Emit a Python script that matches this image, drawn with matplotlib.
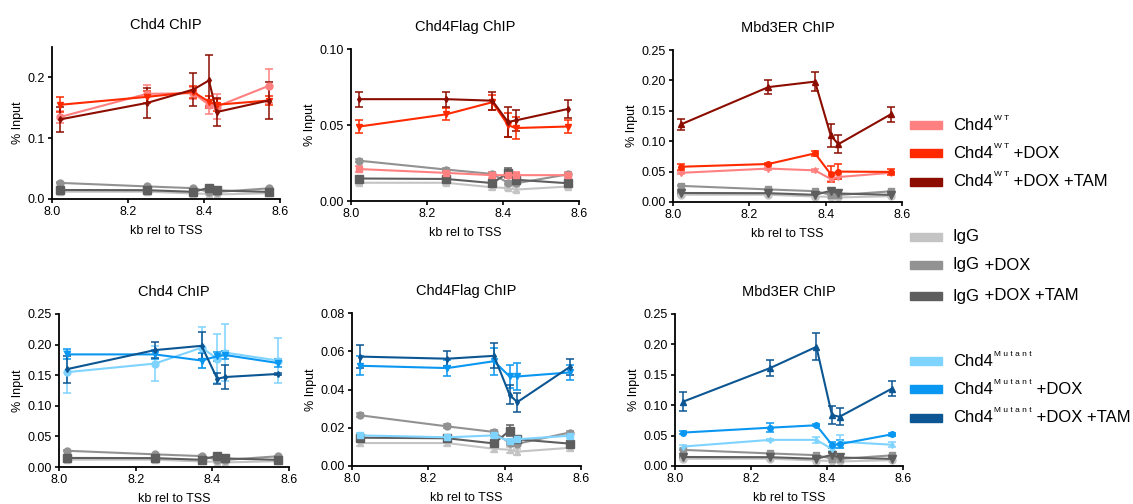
import matplotlib
matplotlib.use("Agg")
import matplotlib.pyplot as plt
from matplotlib.patches import Rectangle

plt.rcParams['font.family'] = ['Liberation Sans', 'DejaVu Sans']

# positions along the locus (kb relative to TSS)
pos = [8.022, 8.25, 8.372, 8.413, 8.433, 8.57]

# IgG controls (same in every panel)
igg = [0.012, 0.012, 0.009, 0.0085, 0.0075, 0.0095]
igg_err = [0.0015, 0.0015, 0.0015, 0.0015, 0.0015, 0.0015]
igg_dox = [0.0265, 0.0207, 0.0178, 0.012, 0.0116, 0.0175]
igg_dox_err = [0.001, 0.001, 0.001, 0.001, 0.001, 0.001]
igg_tam = [0.0148, 0.0145, 0.0118, 0.0185, 0.014, 0.0117]
igg_tam_err = [0.001, 0.001, 0.001, 0.003, 0.001, 0.001]

# Chd4 ChIP, WT
chd4_wt = [0.135, 0.173, 0.174, 0.155, 0.152, 0.186]
chd4_wt_err = [0.010, 0.015, 0.010, 0.015, 0.020, 0.028]
chd4_wt_dox = [0.155, 0.168, 0.176, 0.160, 0.155, 0.162]
chd4_wt_dox_err = [0.012, 0.010, 0.010, 0.010, 0.010, 0.008]
chd4_wt_tam = [0.131, 0.158, 0.180, 0.195, 0.143, 0.162]
chd4_wt_tam_err = [0.020, 0.024, 0.027, 0.042, 0.023, 0.031]

# Chd4Flag ChIP, WT
flag_wt = [0.021, 0.0185, 0.017, 0.017, 0.017, 0.017]
flag_wt_err = [0.002, 0.002, 0.002, 0.002, 0.002, 0.002]
flag_wt_dox = [0.049, 0.057, 0.065, 0.050, 0.048, 0.049]
flag_wt_dox_err = [0.004, 0.004, 0.005, 0.008, 0.007, 0.004]
flag_wt_tam = [0.067, 0.067, 0.066, 0.052, 0.053, 0.0605]
flag_wt_tam_err = [0.005, 0.005, 0.006, 0.010, 0.007, 0.006]

# Mbd3ER ChIP, WT
mbd3_wt = [0.048, 0.055, 0.052, 0.038, 0.041, 0.048]
mbd3_wt_err = [0.002, 0.002, 0.002, 0.003, 0.003, 0.002]
mbd3_wt_dox = [0.058, 0.0625, 0.080, 0.046, 0.050, 0.0495]
mbd3_wt_dox_err = [0.005, 0.002, 0.004, 0.013, 0.012, 0.005]
mbd3_wt_tam = [0.128, 0.189, 0.198, 0.110, 0.095, 0.144]
mbd3_wt_tam_err = [0.009, 0.011, 0.016, 0.019, 0.015, 0.013]

# Chd4 ChIP, Mutant
chd4_mut = [0.155, 0.169, 0.195, 0.177, 0.187, 0.174]
chd4_mut_err = [0.034, 0.028, 0.034, 0.040, 0.046, 0.036]
chd4_mut_dox = [0.184, 0.184, 0.174, 0.181, 0.183, 0.170]
chd4_mut_dox_err = [0.008, 0.007, 0.012, 0.007, 0.007, 0.006]
chd4_mut_tam = [0.160, 0.191, 0.198, 0.144, 0.147, 0.152]
chd4_mut_tam_err = [0.022, 0.013, 0.022, 0.009, 0.020, 0.002]

# Chd4Flag ChIP, Mutant
flag_mut = [0.016, 0.015, 0.016, 0.013, 0.014, 0.0158]
flag_mut_err = [0.001, 0.001, 0.001, 0.001, 0.001, 0.001]
flag_mut_dox = [0.0524, 0.0512, 0.0548, 0.0468, 0.0468, 0.0489]
flag_mut_dox_err = [0.005, 0.004, 0.007, 0.006, 0.007, 0.004]
flag_mut_tam = [0.0572, 0.0561, 0.0576, 0.0372, 0.0334, 0.0517]
flag_mut_tam_err = [0.006, 0.004, 0.0065, 0.005, 0.005, 0.004]

# Mbd3ER ChIP, Mutant
mbd3_mut = [0.032, 0.043, 0.043, 0.028, 0.040, 0.035]
mbd3_mut_err = [0.002, 0.002, 0.005, 0.003, 0.011, 0.004]
mbd3_mut_dox = [0.055, 0.063, 0.067, 0.035, 0.036, 0.052]
mbd3_mut_dox_err = [0.002, 0.007, 0.002, 0.005, 0.006, 0.003]
mbd3_mut_tam = [0.106, 0.161, 0.196, 0.084, 0.081, 0.127]
mbd3_mut_tam_err = [0.015, 0.013, 0.022, 0.015, 0.014, 0.012]

titles = ['Chd4 ChIP', 'Chd4Flag ChIP', 'Mbd3ER ChIP']

wt_colors = ['#ff8080', '#ff2a00', '#8c0d00']
mut_colors = ['#7fd3ff', '#0a97f2', '#0b5693']
igg_colors = ['#c4c4c4', '#929292', '#5e5e5e']

W, H = 1133, 504
fig = plt.figure(figsize=(W / 100, H / 100), dpi=100)


def add_ax(left, top, right, bottom):
    return fig.add_axes([left / W, 1 - bottom / H, (right - left) / W, (bottom - top) / H])


def draw(ax, title, series, ylim, yticks, fmt):
    for vals, errs, color, marker, ms in series:
        ax.errorbar(pos, vals, yerr=errs, color=color, marker=marker, ms=ms,
                    lw=1.5, elinewidth=1.1, capsize=3, capthick=1.1)
    ax.set_xlim(8.0, 8.6)
    ax.set_ylim(*ylim)
    ax.set_xticks([8.0, 8.2, 8.4, 8.6])
    ax.set_xticklabels(['8.0', '8.2', '8.4', '8.6'])
    ax.set_yticks(yticks)
    ax.set_yticklabels([fmt.format(t) for t in yticks])
    ax.spines['top'].set_visible(False)
    ax.spines['right'].set_visible(False)
    for s in ['left', 'bottom']:
        ax.spines[s].set_linewidth(1.3)
    ax.tick_params(direction='out', length=3, width=1.2, labelsize=9, pad=2)
    ax.set_xlabel('kb rel to TSS', fontsize=9, labelpad=5)
    ax.set_ylabel('% Input', fontsize=9, labelpad=3)
    ax.set_title(title, fontsize=10.5, pad=13)


def controls(m1, m2, m3):
    return [(igg, igg_err, igg_colors[0], m1, 5),
            (igg_dox, igg_dox_err, igg_colors[1], m2, 5),
            (igg_tam, igg_tam_err, igg_colors[2], m3, 6)]


# top row (WT)
ax1 = add_ax(52, 47, 280, 199)
draw(ax1, titles[0],
     controls('^', 'o', 's') +
     [(chd4_wt, chd4_wt_err, wt_colors[0], 'o', 5),
      (chd4_wt_dox, chd4_wt_dox_err, wt_colors[1], 'v', 4),
      (chd4_wt_tam, chd4_wt_tam_err, wt_colors[2], 'd', 3)],
     (0, 0.25), [0, 0.1, 0.2], '{:.1f}')

ax2 = add_ax(351, 49, 579, 201)
draw(ax2, titles[1],
     controls('^', 'o', 's') +
     [(flag_wt, flag_wt_err, wt_colors[0], 's', 5),
      (flag_wt_dox, flag_wt_dox_err, wt_colors[1], 'v', 4),
      (flag_wt_tam, flag_wt_tam_err, wt_colors[2], 'd', 3)],
     (0, 0.10), [0, 0.05, 0.10], '{:.2f}')

ax3 = add_ax(673, 50, 902, 202)
draw(ax3, titles[2],
     controls('o', 's', 'v') +
     [(mbd3_wt, mbd3_wt_err, wt_colors[0], 'd', 3),
      (mbd3_wt_dox, mbd3_wt_dox_err, wt_colors[1], 'o', 4),
      (mbd3_wt_tam, mbd3_wt_tam_err, wt_colors[2], '^', 4)],
     (0, 0.25), [0, 0.05, 0.10, 0.15, 0.20, 0.25], '{:.2f}')

# bottom row (Mutant)
ax4 = add_ax(59, 314, 289, 467)
draw(ax4, titles[0],
     controls('^', 'o', 's') +
     [(chd4_mut, chd4_mut_err, mut_colors[0], 'o', 5),
      (chd4_mut_dox, chd4_mut_dox_err, mut_colors[1], 'v', 4),
      (chd4_mut_tam, chd4_mut_tam_err, mut_colors[2], 'd', 3)],
     (0, 0.25), [0, 0.05, 0.10, 0.15, 0.20, 0.25], '{:.2f}')

ax5 = add_ax(352, 313, 581, 466)
draw(ax5, titles[1],
     controls('^', 'o', 's') +
     [(flag_mut, flag_mut_err, mut_colors[0], 's', 5),
      (flag_mut_dox, flag_mut_dox_err, mut_colors[1], 'v', 4),
      (flag_mut_tam, flag_mut_tam_err, mut_colors[2], 'd', 3)],
     (0, 0.08), [0, 0.02, 0.04, 0.06, 0.08], '{:.2f}')

ax6 = add_ax(675, 314, 903, 466)
draw(ax6, titles[2],
     controls('o', 's', 'v') +
     [(mbd3_mut, mbd3_mut_err, mut_colors[0], 'd', 3),
      (mbd3_mut_dox, mbd3_mut_dox_err, mut_colors[1], 'o', 4),
      (mbd3_mut_tam, mbd3_mut_tam_err, mut_colors[2], '^', 4)],
     (0, 0.25), [0, 0.05, 0.10, 0.15, 0.20, 0.25], '{:.2f}')

# legend: swatch, base name, small superscript, then the treatment
legend_rows = [
    ('Chd4', 'W T', '', wt_colors[0], 125),
    ('Chd4', 'W T', ' +DOX', wt_colors[1], 153),
    ('Chd4', 'W T', ' +DOX +TAM', wt_colors[2], 182),
    ('IgG', '', '', igg_colors[0], 237),
    ('IgG', '', ' +DOX', igg_colors[1], 265),
    ('IgG', '', ' +DOX +TAM', igg_colors[2], 296),
    ('Chd4', 'M u t a n t', '', mut_colors[0], 361),
    ('Chd4', 'M u t a n t', ' +DOX', mut_colors[1], 389),
    ('Chd4', 'M u t a n t', ' +DOX +TAM', mut_colors[2], 418),
]
renderer = fig.canvas.get_renderer()
for base, sup, rest, color, yc in legend_rows:
    fig.add_artist(Rectangle((910 / W, 1 - (yc + 4) / H), 32 / W, 8 / H,
                             color=color, transform=fig.transFigure))
    x = 953
    t = fig.text(x / W, 1 - yc / H, base, fontsize=12, va='center', ha='left')
    x += t.get_window_extent(renderer).width
    if sup:
        s = fig.text((x + 1) / W, 1 - (yc - 7) / H, sup, fontsize=6, va='center', ha='left')
        x += s.get_window_extent(renderer).width + 1
    if rest:
        fig.text(x / W, 1 - yc / H, rest, fontsize=12, va='center', ha='left')

fig.savefig('out.png', dpi=100)
